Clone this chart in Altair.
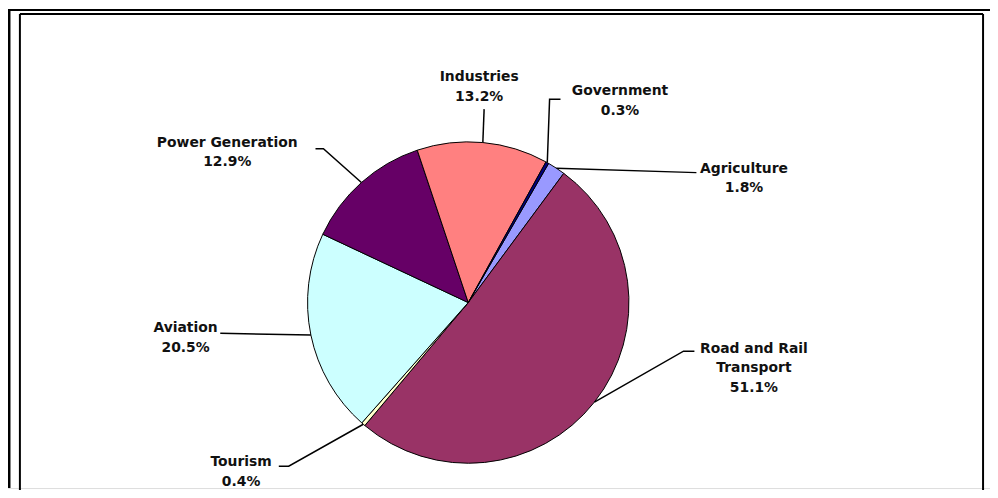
import math
import altair as alt
import pandas as pd

# ---------------- data ----------------
sectors = ["Agriculture", "Road and Rail Transport", "Tourism", "Aviation",
           "Power Generation", "Industries", "Government"]
shares = [1.8, 51.1, 0.4, 20.5, 12.9, 13.2, 0.3]
label_names = ["Agriculture", "Road and Rail\nTransport", "Tourism", "Aviation",
               "Power Generation", "Industries", "Government"]
colors = ["#9999FF", "#993366", "#FFFFCC", "#CCFFFF", "#660066", "#FF8080", "#000080"]

# ---------------- layout ----------------
W, H = 990, 482
CX, CY, R = 464, 295, 162
START_DEG = 30.0
FONT = "DejaVu Sans"
FS = 14
LH = 19.5

# first-line centre of each label, elbow, stub end (layout in px)
text_pos = {
    "Agriculture": (742, 160),
    "Road and Rail Transport": (752, 342),
    "Tourism": (235, 456),
    "Aviation": (179, 321),
    "Power Generation": (221, 134),
    "Industries": (475, 68),
    "Government": (617, 82),
}
elbows = {
    "Agriculture": None,
    "Road and Rail Transport": (681, 344),
    "Tourism": (283, 460),
    "Aviation": None,
    "Power Generation": (318, 140),
    "Industries": None,
    "Government": (546, 90),
}
stubs = {
    "Agriculture": (694, 164),
    "Road and Rail Transport": (692, 344),
    "Tourism": (273, 460),
    "Aviation": (214, 326),
    "Power Generation": (310, 140),
    "Industries": (480, 100),
    "Government": (557, 90),
}

total = sum(shares)
pie_df = pd.DataFrame({
    "sector": sectors,
    "share": shares,
    "order": list(range(len(sectors))),
})

# leader lines from slice mid-angle edge point
line_rows = []
text_rows = []
cum = 0.0
for i, (s, v) in enumerate(zip(sectors, shares)):
    mid = math.radians(START_DEG + 360.0 * (cum + v / 2) / total)
    cum += v
    ex = CX + R * math.sin(mid)
    ey = CY - R * math.cos(mid)
    pts = [(ex, ey)]
    if elbows[s] is not None:
        pts.append(elbows[s])
    pts.append(stubs[s])
    for k, (px, py) in enumerate(pts):
        line_rows.append({"sector": s, "k": k, "x": px, "y": py})
    tx, ty = text_pos[s]
    text_rows.append({"sector": s, "x": tx, "y": ty,
                      "label": f"{label_names[i]}\n{v:.1f}%"})
line_df = pd.DataFrame(line_rows)
text_df = pd.DataFrame(text_rows)

xs = alt.Scale(domain=[0, W], range=[0, W])
ys = alt.Scale(domain=[0, H], range=[0, H])

a0 = math.radians(START_DEG)
pie = alt.Chart(pie_df).mark_arc(radius=R, stroke="black", strokeWidth=1).encode(
    theta=alt.Theta("share:Q", stack=True,
                    scale=alt.Scale(range=[a0, a0 + 2 * math.pi])),
    color=alt.Color("sector:N", scale=alt.Scale(domain=sectors, range=colors), legend=None),
    order=alt.Order("order:Q"),
    x=alt.value(CX),
    y=alt.value(CY),
)

leaders = alt.Chart(line_df).mark_line(color="black", strokeWidth=1.5).encode(
    x=alt.X("x:Q", scale=xs, axis=None),
    y=alt.Y("y:Q", scale=ys, axis=None),
    detail="sector:N",
    order="k:Q",
)

labels = alt.Chart(text_df).mark_text(
    font=FONT, fontSize=FS, fontWeight="bold", color="#111111",
    align="center", baseline="middle", lineBreak="\n", lineHeight=LH,
).encode(
    x=alt.X("x:Q", scale=xs, axis=None),
    y=alt.Y("y:Q", scale=ys, axis=None),
    text="label:N",
)

# frame lines
frame_df = pd.DataFrame([
    {"x": 0, "x2": W, "y": 0, "y2": 0, "w": 2},
    {"x": 1, "x2": 1, "y": 0, "y2": H, "w": 3},
    {"x": 12, "x2": 983, "y": 4, "y2": 4, "w": 2},
    {"x": 12, "x2": 12, "y": 4, "y2": 489, "w": 2},
    {"x": 983, "x2": 983, "y": 4, "y2": 489, "w": 2},
    {"x": 12, "x2": 983, "y": 489, "y2": 489, "w": 2},
])
frame = alt.Chart(frame_df).mark_rule(color="black").encode(
    x=alt.X("x:Q", scale=xs, axis=None),
    x2="x2:Q",
    y=alt.Y("y:Q", scale=ys, axis=None),
    y2="y2:Q",
    strokeWidth=alt.StrokeWidth("w:Q", scale=None, legend=None),
)

chart = alt.layer(frame, pie, leaders, labels).properties(
    width=W, height=H, autosize="none", padding=0,
).configure_view(stroke=None).configure(background="white")

chart.save("out.html", embed_options={"renderer": "svg", "actions": False})
